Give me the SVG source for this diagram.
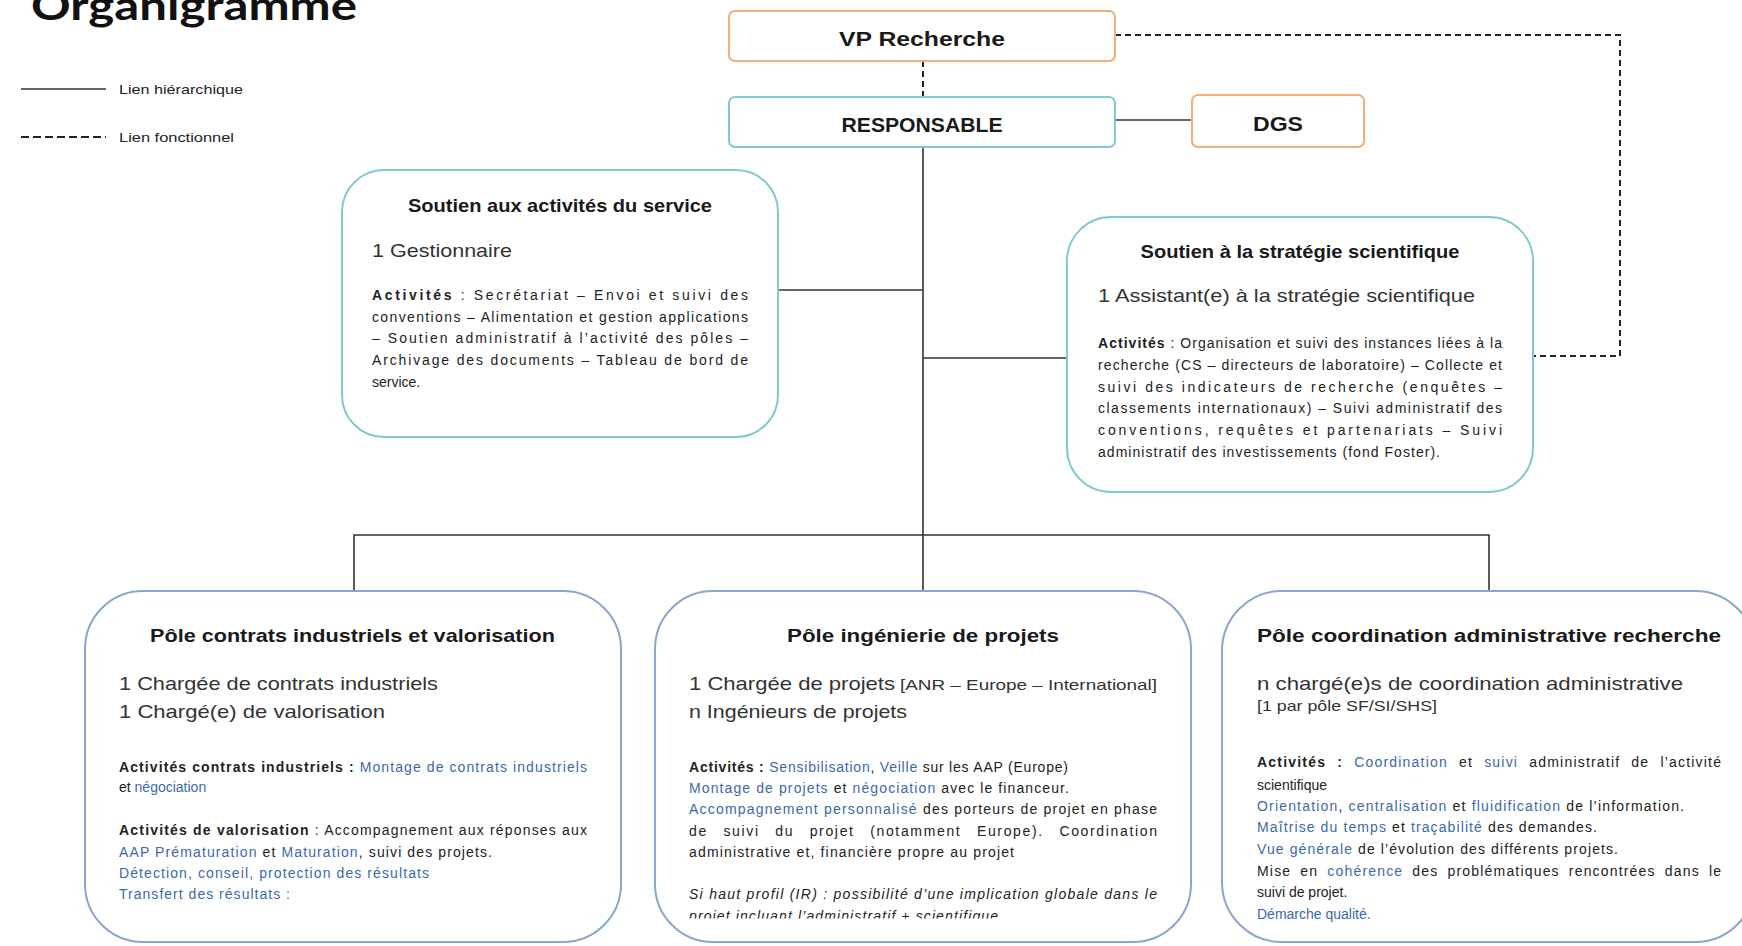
<svg xmlns="http://www.w3.org/2000/svg" width="1742" height="946" viewBox="0 0 1742 946">
<style>
  .bg{fill:#ffffff}
  .orange{fill:#ffffff;stroke:#f2ad78;stroke-width:2}
  .teal{fill:#ffffff;stroke:#84c8cf;stroke-width:2}
  .pole{fill:#ffffff;stroke:#8aa6cc;stroke-width:2}
  .solid{fill:none;stroke:#333333;stroke-width:1.6}
  .dash{fill:none;stroke:#222222;stroke-width:2;stroke-dasharray:6 4}
  .hdr{font-family:"Liberation Sans",Arial,sans-serif;font-weight:bold;font-size:21px;fill:#1a1a1a;text-anchor:middle}
  .ttl{font-family:"Liberation Sans",Arial,sans-serif;font-weight:bold;font-size:19px;fill:#1a1a1a;text-anchor:middle}
  .role{font-family:"Liberation Sans",Arial,sans-serif;font-size:19px;fill:#333333}
  .small{font-family:"Liberation Sans",Arial,sans-serif;font-size:15px;fill:#333333}
  .body{font-family:"Liberation Sans",Arial,sans-serif;font-size:14px;fill:#222222}
  .b{font-weight:bold}
  .blue{fill:#3c68ad}
  .it{font-style:italic}
  .leg{font-family:"Liberation Sans",Arial,sans-serif;font-size:13.5px;fill:#222222}
</style>
<defs>
  <clipPath id="clip2"><rect x="600" y="860" width="620" height="58.5"/></clipPath>
  <clipPath id="clip3"><rect x="1200" y="860" width="560" height="62"/></clipPath>
</defs>
<rect class="bg" x="0" y="0" width="1742" height="946"/>

<g id="title">
  <text x="31" y="20" font-family="Lato,'Liberation Sans',sans-serif" font-weight="bold" font-size="40" fill="#111111" textLength="326" lengthAdjust="spacingAndGlyphs">Organigramme</text>
</g>

<g id="legend">
  <line class="solid" x1="21" y1="89" x2="106" y2="89"/>
  <text class="leg" x="119" y="94" textLength="124" lengthAdjust="spacingAndGlyphs">Lien hiérarchique</text>
  <line class="dash" x1="21" y1="137" x2="106" y2="137" style="stroke-dasharray:8 4"/>
  <text class="leg" x="119" y="142" textLength="115" lengthAdjust="spacingAndGlyphs">Lien fonctionnel</text>
</g>

<g id="connectors">
  <line class="dash" x1="923" y1="61" x2="923" y2="97"/>
  <path class="dash" d="M1115 35 H1620 V356 H1533"/>
  <line class="solid" x1="1115" y1="120" x2="1192" y2="120"/>
  <line class="solid" x1="923" y1="147" x2="923" y2="591"/>
  <line class="solid" x1="778" y1="290" x2="923" y2="290"/>
  <line class="solid" x1="923" y1="358" x2="1067" y2="358"/>
  <path class="solid" d="M354 591 V535 H1489 V591"/>
</g>

<g id="vp">
  <rect class="orange" x="729" y="11" width="386" height="50" rx="6"/>
  <text class="hdr" x="922" y="46" textLength="166" lengthAdjust="spacingAndGlyphs">VP Recherche</text>
</g>

<g id="responsable">
  <rect class="teal" x="729" y="97" width="386" height="50" rx="6"/>
  <text class="hdr" x="922" y="132" textLength="161" lengthAdjust="spacingAndGlyphs">RESPONSABLE</text>
</g>

<g id="dgs">
  <rect class="orange" x="1192" y="95" width="172" height="52" rx="6"/>
  <text class="hdr" x="1278" y="131" textLength="50" lengthAdjust="spacingAndGlyphs">DGS</text>
</g>

<g id="service">
  <rect class="teal" x="342" y="170" width="436" height="267" rx="42"/>
  <text class="ttl" x="560" y="212" textLength="304" lengthAdjust="spacingAndGlyphs">Soutien aux activités du service</text>
  <text class="role" x="372" y="257" textLength="140" lengthAdjust="spacingAndGlyphs">1 Gestionnaire</text>
  <text class="body" x="372" y="300" textLength="376" lengthAdjust="spacing"><tspan class="b">Activités</tspan> : Secrétariat – Envoi et suivi des</text>
  <text class="body" x="372" y="322" textLength="376" lengthAdjust="spacing">conventions – Alimentation et gestion applications</text>
  <text class="body" x="372" y="343" textLength="376" lengthAdjust="spacing">– Soutien administratif à l’activité des pôles –</text>
  <text class="body" x="372" y="365" textLength="376" lengthAdjust="spacing">Archivage des documents – Tableau de bord de</text>
  <text class="body" x="372" y="387">service.</text>
</g>

<g id="strategie">
  <rect class="teal" x="1067" y="217" width="466" height="275" rx="44"/>
  <text class="ttl" x="1300" y="258" textLength="319" lengthAdjust="spacingAndGlyphs">Soutien à la stratégie scientifique</text>
  <text class="role" x="1098" y="302" textLength="377" lengthAdjust="spacingAndGlyphs">1 Assistant(e)  à la stratégie scientifique</text>
  <text class="body" x="1098" y="348" textLength="404" lengthAdjust="spacing"><tspan class="b">Activités</tspan> : Organisation et suivi des instances liées à la</text>
  <text class="body" x="1098" y="370" textLength="404" lengthAdjust="spacing">recherche (CS – directeurs de laboratoire) – Collecte et</text>
  <text class="body" x="1098" y="392" textLength="404" lengthAdjust="spacing">suivi des indicateurs de recherche (enquêtes –</text>
  <text class="body" x="1098" y="413" textLength="404" lengthAdjust="spacing">classements internationaux) – Suivi administratif des</text>
  <text class="body" x="1098" y="435" textLength="404" lengthAdjust="spacing">conventions, requêtes et partenariats – Suivi</text>
  <text class="body" x="1098" y="457" textLength="342" lengthAdjust="spacing">administratif des investissements (fond Foster).</text>
</g>

<g id="pole-contrats">
  <rect class="pole" x="85" y="591" width="536" height="351" rx="58"/>
  <text class="ttl" x="352.5" y="642" font-size="20" textLength="405" lengthAdjust="spacingAndGlyphs">Pôle contrats industriels et valorisation</text>
  <text class="role" x="119" y="690" textLength="319" lengthAdjust="spacingAndGlyphs">1 Chargée de contrats industriels</text>
  <text class="role" x="119" y="718" textLength="266" lengthAdjust="spacingAndGlyphs">1 Chargé(e) de valorisation</text>
  <text class="body" x="119" y="772" textLength="468" lengthAdjust="spacing"><tspan class="b">Activités contrats industriels :</tspan> <tspan class="blue">Montage de contrats industriels</tspan></text>
  <text class="body" x="119" y="792">et <tspan class="blue">négociation</tspan></text>
  <text class="body" x="119" y="835" textLength="468" lengthAdjust="spacing"><tspan class="b">Activités de valorisation</tspan> : Accompagnement aux réponses aux</text>
  <text class="body" x="119" y="857" textLength="373" lengthAdjust="spacing"><tspan class="blue">AAP Prématuration</tspan> et <tspan class="blue">Maturation</tspan>, suivi des projets.</text>
  <text class="body blue" x="119" y="878" textLength="310" lengthAdjust="spacing">Détection, conseil, protection des résultats</text>
  <text class="body blue" x="119" y="899" textLength="171" lengthAdjust="spacing">Transfert des résultats :</text>
</g>

<g id="pole-ingenierie">
  <rect class="pole" x="655" y="591" width="536" height="351" rx="58"/>
  <text class="ttl" x="923" y="642" font-size="20" textLength="272" lengthAdjust="spacingAndGlyphs">Pôle ingénierie de projets</text>
  <text class="role" x="689" y="690" textLength="206" lengthAdjust="spacingAndGlyphs">1 Chargée de projets</text>
  <text class="small" x="900" y="690" textLength="257" lengthAdjust="spacingAndGlyphs">[ANR – Europe – International]</text>
  <text class="role" x="689" y="718" textLength="218" lengthAdjust="spacingAndGlyphs">n Ingénieurs de projets</text>
  <text class="body" x="689" y="772" textLength="379" lengthAdjust="spacing"><tspan class="b">Activités :</tspan> <tspan class="blue">Sensibilisation</tspan>, <tspan class="blue">Veille</tspan> sur les AAP (Europe)</text>
  <text class="body" x="689" y="793" textLength="380" lengthAdjust="spacing"><tspan class="blue">Montage de projets</tspan> et <tspan class="blue">négociation</tspan> avec le financeur.</text>
  <text class="body" x="689" y="814" textLength="468" lengthAdjust="spacing"><tspan class="blue">Accompagnement personnalisé</tspan> des porteurs de projet en phase</text>
  <text class="body" x="689" y="836" textLength="468" lengthAdjust="spacing" word-spacing="10">de suivi du projet (notamment Europe). Coordination</text>
  <text class="body" x="689" y="857" textLength="325" lengthAdjust="spacing">administrative et, financière propre au projet</text>
  <text class="body it" x="689" y="899" textLength="468" lengthAdjust="spacing">Si haut profil (IR) : possibilité d’une implication globale dans le</text>
  <text class="body it" x="689" y="921" textLength="309" lengthAdjust="spacing" clip-path="url(#clip2)">projet incluant l’administratif + scientifique</text>
</g>

<g id="pole-coordination">
  <rect class="pole" x="1222" y="591" width="533" height="351" rx="60"/>
  <text class="ttl" x="1489" y="642" font-size="20" textLength="464" lengthAdjust="spacingAndGlyphs">Pôle coordination administrative recherche</text>
  <text class="role" x="1257" y="690" textLength="426" lengthAdjust="spacingAndGlyphs">n chargé(e)s de coordination administrative</text>
  <text class="small" x="1257" y="711" textLength="180" lengthAdjust="spacingAndGlyphs">[1 par pôle SF/SI/SHS]</text>
  <text class="body" x="1257" y="767" textLength="464" lengthAdjust="spacing" word-spacing="6"><tspan class="b">Activités :</tspan> <tspan class="blue">Coordination</tspan> et <tspan class="blue">suivi</tspan> administratif de l’activité</text>
  <text class="body" x="1257" y="790">scientifique</text>
  <text class="body" x="1257" y="811" textLength="427" lengthAdjust="spacing"><tspan class="blue">Orientation</tspan>, <tspan class="blue">centralisation</tspan> et <tspan class="blue">fluidification</tspan> de l’information.</text>
  <text class="body" x="1257" y="832" textLength="340" lengthAdjust="spacing"><tspan class="blue">Maîtrise du temps</tspan> et <tspan class="blue">traçabilité</tspan> des demandes.</text>
  <text class="body" x="1257" y="854" textLength="361" lengthAdjust="spacing"><tspan class="blue">Vue générale</tspan> de l’évolution des différents projets.</text>
  <text class="body" x="1257" y="876" textLength="464" lengthAdjust="spacing" word-spacing="4">Mise en <tspan class="blue">cohérence</tspan> des problématiques rencontrées dans le</text>
  <text class="body" x="1257" y="897">suivi de projet.</text>
  <text class="body blue" x="1257" y="919" clip-path="url(#clip3)">Démarche qualité.</text>
</g>
</svg>
